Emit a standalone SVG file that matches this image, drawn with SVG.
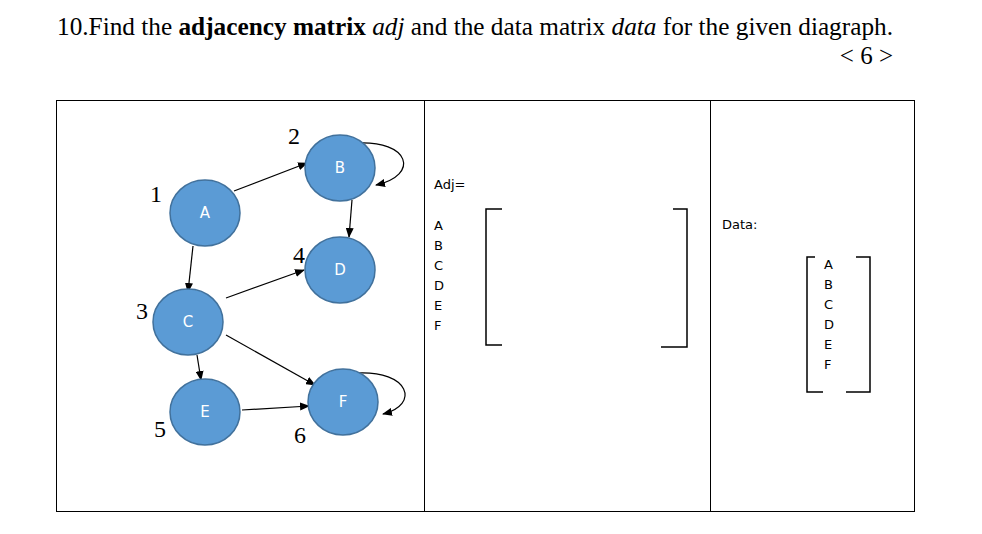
<svg xmlns="http://www.w3.org/2000/svg" width="982" height="534" viewBox="0 0 982 534">
<style>
.t{font-family:"Liberation Serif",serif;font-size:25px;fill:#000}
.n{font-family:"Liberation Serif",serif;font-size:24px;fill:#000}
.s{font-family:"DejaVu Sans",sans-serif;font-size:13px;fill:#000}
.w{font-family:"DejaVu Sans",sans-serif;font-size:15px;fill:#fff;text-anchor:middle}
.node{fill:#5b9bd5;stroke:#41719c;stroke-width:1.5}
.e{stroke:#000;stroke-width:1.2;fill:none;marker-end:url(#ah)}
.b{stroke:#000;stroke-width:1.5;fill:none}
</style>
<defs><marker id="ah" markerWidth="10" markerHeight="8" refX="9" refY="4" orient="auto" markerUnits="userSpaceOnUse"><path d="M0,0 L10,4 L0,8 Z" fill="#000"/></marker></defs>
<rect width="982" height="534" fill="#fff"/>
<text class="t" x="57" y="35" textLength="836" lengthAdjust="spacingAndGlyphs">10.Find the <tspan font-weight="bold">adjacency matrix</tspan> <tspan font-style="italic">adj</tspan> and the data matrix <tspan font-style="italic">data</tspan> for the given diagraph.</text>
<text class="t" x="893" y="64" text-anchor="end">&lt; 6 &gt;</text>
<rect x="56.5" y="100.5" width="858" height="411" fill="none" stroke="#000"/>
<line x1="424.5" y1="100" x2="424.5" y2="511" stroke="#000"/>
<line x1="710.5" y1="100" x2="710.5" y2="511" stroke="#000"/>
<g id="connectors">
<path class="e" d="M234,191 L307,163"/>
<path class="e" d="M352,200 L349,237"/>
<path class="e" d="M193,246 L188,292"/>
<path class="e" d="M226,298 L304,270"/>
<path class="e" d="M226,335 L315,385"/>
<path class="e" d="M197,355 L201,380"/>
<path class="e" d="M242,410 L309,406"/>
<path class="e" d="M356,143 C410,140 420,175 376,185"/>
<path class="e" d="M356,373 C410,370 420,405 383,414"/>
</g>
<g id="A"><ellipse class="node" cx="205" cy="213" rx="35" ry="33"/><text class="w" x="205" y="218">A</text></g>
<g id="B"><ellipse class="node" cx="340" cy="168" rx="35" ry="33"/><text class="w" x="340" y="173">B</text></g>
<g id="D"><ellipse class="node" cx="340" cy="270" rx="35" ry="33"/><text class="w" x="340" y="275">D</text></g>
<g id="C"><ellipse class="node" cx="188" cy="322" rx="35" ry="33"/><text class="w" x="188" y="327">C</text></g>
<g id="E"><ellipse class="node" cx="205" cy="412" rx="35" ry="33"/><text class="w" x="205" y="417">E</text></g>
<g id="F"><ellipse class="node" cx="343" cy="402" rx="35" ry="33"/><text class="w" x="343" y="407">F</text></g>
<text class="n" x="150" y="202">1</text>
<text class="n" x="288" y="144">2</text>
<text class="n" x="136" y="319">3</text>
<text class="n" x="293" y="263">4</text>
<text class="n" x="154" y="437">5</text>
<text class="n" x="294" y="443">6</text>
<text class="s" x="434" y="189">Adj=</text>
<g class="s"><text x="434" y="230">A</text><text x="434" y="250">B</text><text x="434" y="270">C</text><text x="434" y="290">D</text><text x="434" y="310">E</text><text x="434" y="330">F</text></g>
<path class="b" d="M502,209 H486 V345 H502"/>
<path class="b" d="M673,209 H687 V347 H661"/>
<text class="s" x="722" y="229">Data:</text>
<g class="s"><text x="824" y="269">A</text><text x="824" y="289">B</text><text x="824" y="309">C</text><text x="824" y="329">D</text><text x="824" y="349">E</text><text x="824" y="369">F</text></g>
<path class="b" d="M815,257 H807 V392 H823"/>
<path class="b" d="M856,257 H870 V392 H846"/>
</svg>
